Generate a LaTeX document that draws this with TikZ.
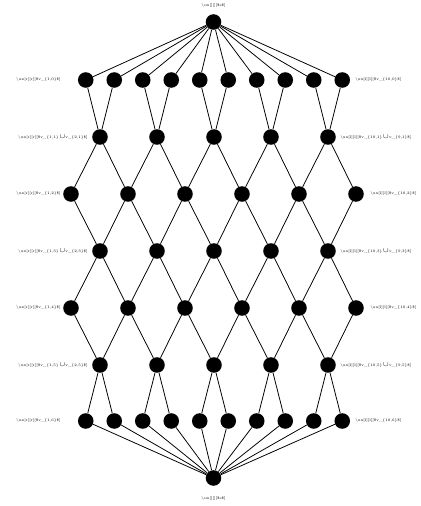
\documentclass[tikz,border=0pt]{standalone}
\usepackage{tikz}
\usetikzlibrary{positioning}
\newcommand{\uxlbl}[2]{\textbackslash ux[#1][#1][\$#2\$]}
\newcommand{\uxcup}{\,$\cup$}

\begin{document}
\begin{tikzpicture}[x=0.027cm,y=-0.027cm,font=\fontsize{2.85}{3.2}\selectfont,
  vtx/.style={circle,fill=black,minimum size=0.42cm,inner sep=0pt},
  lbl/.style={inner sep=0pt},
  edge/.style={line width=0.6pt}]
\useasboundingbox (0,0) rectangle (420,506);
% --- source and sink ---
\node[vtx] (s) at (213.5,22) {};
\node[vtx] (t) at (213.5,478) {};
\node[lbl,above=4.5pt of s] {\textbackslash ux[][][\$s\$]};
\node[lbl,below=8pt of t] {\textbackslash ux[][][\$s\$]};
% --- rows of ten ---
\foreach \i in {1,...,10} {
  \node[vtx] (r0-\i) at ({85.75+28.5*(\i-1)},80) {};
  \node[vtx] (r6-\i) at ({85.75+28.5*(\i-1)},421) {};
}
% --- rows of five and six ---
\foreach \k in {1,...,5} {
  \node[vtx] (r1-\k) at ({100+57*(\k-1)},137) {};
  \node[vtx] (r3-\k) at ({100+57*(\k-1)},251) {};
  \node[vtx] (r5-\k) at ({100+57*(\k-1)},365) {};
}
\foreach \k in {1,...,6} {
  \node[vtx] (r2-\k) at ({71+57*(\k-1)},194) {};
  \node[vtx] (r4-\k) at ({71+57*(\k-1)},308) {};
}
% --- edges ---
\foreach \i in {1,...,10} {
  \draw[edge] (s) -- (r0-\i);
  \draw[edge] (r6-\i) -- (t);
}
\foreach \k [evaluate=\k as \a using int(2*\k-1), evaluate=\k as \b using int(2*\k), evaluate=\k as \n using int(\k+1)] in {1,...,5} {
  \draw[edge] (r0-\a) -- (r1-\k) -- (r0-\b);
  \draw[edge] (r6-\a) -- (r5-\k) -- (r6-\b);
  \draw[edge] (r2-\k) -- (r1-\k) -- (r2-\n);
  \draw[edge] (r2-\k) -- (r3-\k) -- (r2-\n);
  \draw[edge] (r4-\k) -- (r3-\k) -- (r4-\n);
  \draw[edge] (r4-\k) -- (r5-\k) -- (r4-\n);
}
% --- side labels ---
\node[lbl,anchor=east] (l0) at (61,80) {\uxlbl{r}{v\_\{1,0\}}};
\node[lbl,anchor=east] (l1) at (88,137) {\uxlbl{r}{v\_\{1,1\}\uxcup v\_\{2,1\}}};
\node[lbl,anchor=east] (l2) at (61,194) {\uxlbl{r}{v\_\{1,2\}}};
\node[lbl,anchor=east] (l3) at (88,251) {\uxlbl{r}{v\_\{1,3\}\uxcup v\_\{2,3\}}};
\node[lbl,anchor=east] (l4) at (61,308) {\uxlbl{r}{v\_\{1,4\}}};
\node[lbl,anchor=east] (l5) at (88,365) {\uxlbl{r}{v\_\{1,5\}\uxcup v\_\{2,5\}}};
\node[lbl,anchor=east] (l6) at (61,421) {\uxlbl{r}{v\_\{1,6\}}};
\node[lbl,anchor=west] (m0) at (355,80) {\uxlbl{l}{v\_\{10,0\}}};
\node[lbl,anchor=west] (m1) at (340,137) {\uxlbl{l}{v\_\{10,1\}\uxcup v\_\{9,1\}}};
\node[lbl,anchor=west] (m2) at (370,194) {\uxlbl{l}{v\_\{10,2\}}};
\node[lbl,anchor=west] (m3) at (340,251) {\uxlbl{l}{v\_\{10,3\}\uxcup v\_\{9,3\}}};
\node[lbl,anchor=west] (m4) at (370,308) {\uxlbl{l}{v\_\{10,4\}}};
\node[lbl,anchor=west] (m5) at (340,365) {\uxlbl{l}{v\_\{10,5\}\uxcup v\_\{9,5\}}};
\node[lbl,anchor=west] (m6) at (355,421) {\uxlbl{l}{v\_\{10,6\}}};
\end{tikzpicture}
\end{document}
